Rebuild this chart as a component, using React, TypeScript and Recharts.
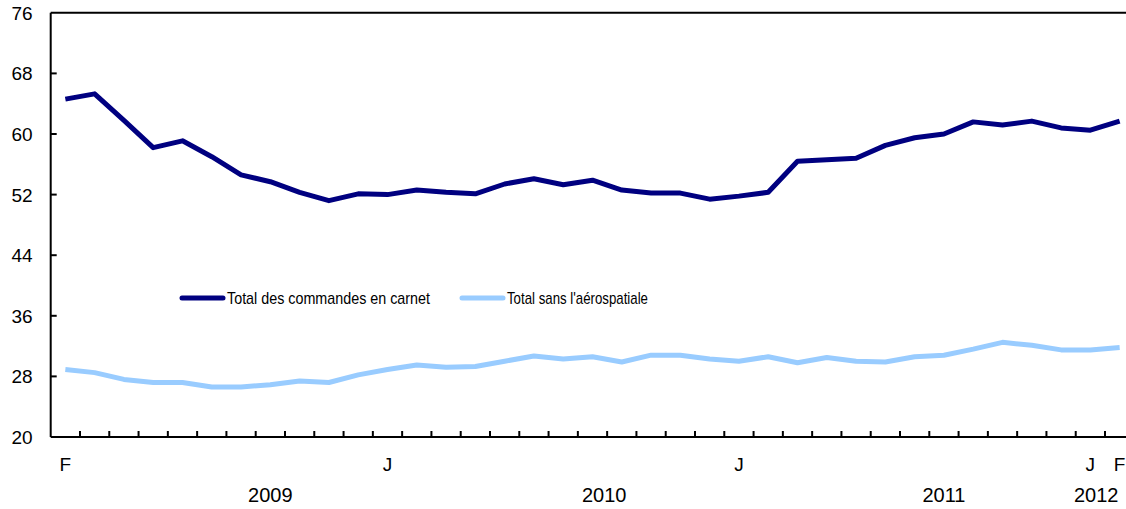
import React from 'react';
import { LineChart, Line, XAxis, YAxis, ReferenceLine } from 'recharts';

const categories = [
  '2009-02','2009-03','2009-04','2009-05','2009-06','2009-07','2009-08','2009-09','2009-10','2009-11','2009-12',
  '2010-01','2010-02','2010-03','2010-04','2010-05','2010-06','2010-07','2010-08','2010-09','2010-10','2010-11','2010-12',
  '2011-01','2011-02','2011-03','2011-04','2011-05','2011-06','2011-07','2011-08','2011-09','2011-10','2011-11','2011-12',
  '2012-01','2012-02',
];

const totalCarnet = [
  64.6, 65.3, 61.8, 58.2, 59.1, 57.0, 54.6, 53.7, 52.3, 51.2, 52.1,
  52.0, 52.6, 52.3, 52.1, 53.4, 54.1, 53.3, 53.9, 52.6, 52.2, 52.2, 51.4,
  51.8, 52.3, 56.4, 56.6, 56.8, 58.5, 59.5, 60.0, 61.6, 61.2, 61.7, 60.8,
  60.5, 61.7,
];

const sansAero = [
  28.9, 28.5, 27.6, 27.2, 27.2, 26.6, 26.6, 26.9, 27.4, 27.2, 28.2,
  28.9, 29.5, 29.2, 29.3, 30.0, 30.7, 30.3, 30.6, 29.9, 30.8, 30.8, 30.3,
  30.0, 30.6, 29.8, 30.5, 30.0, 29.9, 30.6, 30.8, 31.6, 32.5, 32.1, 31.5,
  31.5, 31.8,
];

const seriesNames = ['Total des commandes en carnet', "Total sans l'aérospatiale"];
const seriesColors = ['#000080', '#99CCFF'];

const yTicks = [20, 28, 36, 44, 52, 60, 68, 76];
const monthTickIdx = [0, 11, 23, 35, 36];
const monthTickText = ['F', 'J', 'J', 'J', 'F'];
const yearLabels = ['2009', '2010', '2011', '2012'];
const yearPos = [7, 18.4, 30, 35.2];
const boundaryTicks = categories.slice(0, -1).map((_, i) => i + 0.5);

const data = categories.map((c, i) => ({
  idx: i,
  cat: c,
  carnet: totalCarnet[i],
  sans: sansAero[i],
}));

const xTicks = [...monthTickIdx, ...yearPos, ...boundaryTicks].sort((a, b) => a - b);

const FONT = '"Liberation Sans", Arial, sans-serif';

const XTick = (props: any) => {
  const { x, y, payload } = props;
  const v = payload.value;
  const mi = monthTickIdx.indexOf(v);
  if (mi >= 0) {
    return (
      <text x={x} y={y + 34} textAnchor="middle" fontSize={19} fontFamily={FONT} fill="#000">
        {monthTickText[mi]}
      </text>
    );
  }
  const yi = yearPos.indexOf(v);
  if (yi >= 0) {
    return (
      <text x={x} y={y + 65} textAnchor="middle" fontSize={20} fontFamily={FONT} fill="#000">
        {yearLabels[yi]}
      </text>
    );
  }
  return <line x1={x} x2={x} y1={y} y2={y - 6} stroke="#000" strokeWidth={2} />;
};

const YTick = (props: any) => {
  const { x, y, payload } = props;
  const v = payload.value;
  return (
    <g>
      {v !== 20 && v !== 76 && <line x1={x} x2={x + 6} y1={y} y2={y} stroke="#000" strokeWidth={2} />}
      <text x={x - 18} y={y + 7} textAnchor="end" fontSize={19} fontFamily={FONT} fill="#000">
        {v}
      </text>
    </g>
  );
};

const legendLine = [[182, 223], [462, 503]];
const legendTextWidth = [203, 141];

export default function App() {
  return (
    <div style={{ position: 'fixed', top: 0, left: 0, width: 1126, height: 509, overflow: 'hidden', background: '#fff' }}>
      <LineChart
        width={1150}
        height={509}
        data={data}
        margin={{ top: 12.8, right: 15.7, left: 0, bottom: 0 }}
      >
        <XAxis
          dataKey="idx"
          type="number"
          domain={[-0.5, 36.5]}
          ticks={xTicks}
          interval={0}
          tickLine={false}
          tickSize={0}
          tickMargin={0}
          height={72}
          axisLine={{ stroke: '#000', strokeWidth: 2 }}
          tick={<XTick />}
          allowDecimals
        />
        <YAxis
          domain={[20, 76]}
          ticks={yTicks}
          interval={0}
          width={50.7}
          tickLine={false}
          tickSize={0}
          tickMargin={0}
          axisLine={{ stroke: '#000', strokeWidth: 2 }}
          tick={<YTick />}
        />
        <ReferenceLine y={76} stroke="#000" strokeWidth={2} />
        <Line
          dataKey="carnet"
          name={seriesNames[0]}
          stroke={seriesColors[0]}
          strokeWidth={5}
          dot={false}
          strokeLinejoin="round"
          isAnimationActive={false}
        />
        <Line
          dataKey="sans"
          name={seriesNames[1]}
          stroke={seriesColors[1]}
          strokeWidth={5}
          dot={false}
          strokeLinejoin="round"
          isAnimationActive={false}
        />
      </LineChart>
      <svg width={1126} height={24} style={{ position: 'absolute', left: 0, top: 287 }}>
        {seriesNames.map((n, i) => (
          <g key={n}>
            <line
              x1={legendLine[i][0]}
              x2={legendLine[i][1]}
              y1={11}
              y2={11}
              stroke={seriesColors[i]}
              strokeWidth={5}
              strokeLinecap="round"
            />
            <text
              x={legendLine[i][1] + 4}
              y={17}
              fontSize={17}
              fontFamily={FONT}
              textLength={legendTextWidth[i]}
              lengthAdjust="spacingAndGlyphs"
              fill="#000"
            >
              {n}
            </text>
          </g>
        ))}
      </svg>
    </div>
  );
}
